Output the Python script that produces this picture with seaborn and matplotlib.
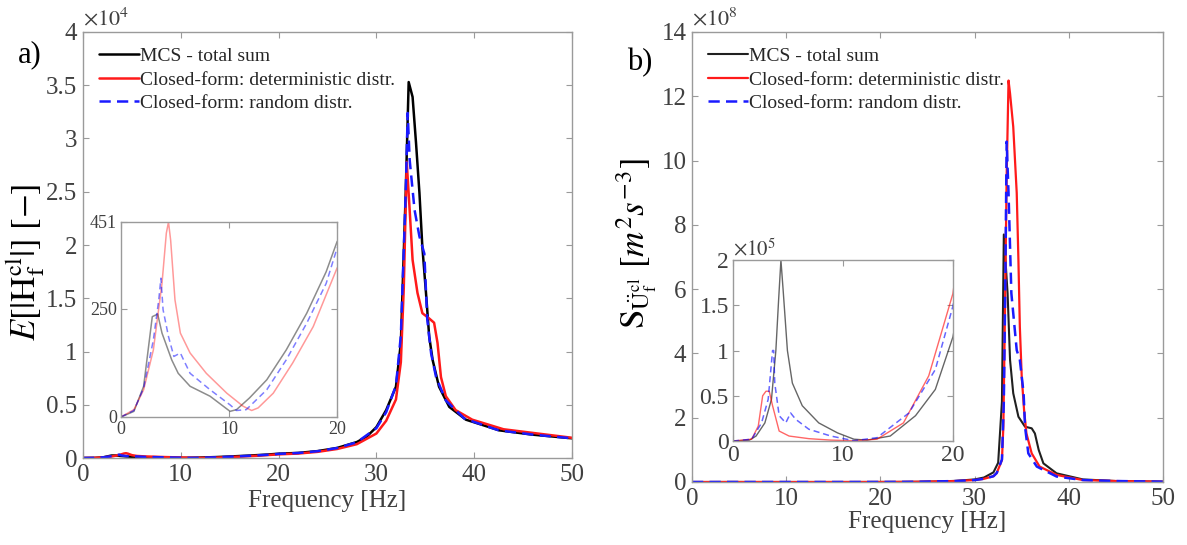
import matplotlib
matplotlib.use("Agg")
import matplotlib.pyplot as plt
from matplotlib.ticker import FuncFormatter
import numpy as np
import seaborn as sns

# ---- panel a) : E[|H_f^cl|]  (raw values) ----
f_mcs_a = [0, 1.2, 2.1, 2.9, 3.4, 3.8, 4.25, 4.7, 5.3, 6.4, 8.25, 10.1, 10.7, 11.9, 13.5, 15.3, 17.2, 19.0, 20.0,
           22, 24, 26, 28, 29, 30, 31, 32, 32.5, 33.0, 33.3, 33.7, 34.05, 34.4, 34.7, 35.07, 35.4, 35.75, 36.4,
           37.45, 39.15, 42.55, 45.9, 50]
v_mcs_a = [0, 13, 71, 232, 238, 194, 163, 132, 101, 71, 48, 13, 17, 44, 86, 155, 240, 336, 405,
           480, 650, 950, 1500, 2000, 2900, 4500, 6700, 10800, 25000, 35300, 33900, 29600, 24900, 19800,
           15500, 11400, 9200, 6700, 4800, 3600, 2600, 2200, 1850]

f_det_a = [0, 1.2, 2.1, 3.0, 3.8, 4.2, 4.4, 4.6, 5.0, 5.5, 6.4, 7.9, 9.8, 11.3, 12.1, 12.7, 14.1, 15.9, 17.8, 20,
           22, 24, 26, 28, 30, 31, 32, 32.5, 32.8, 33.1, 33.4, 33.7, 34.2, 34.7, 35.4, 35.9, 36.25, 36.6, 37.1,
           38.1, 39.8, 43, 50]
v_det_a = [0, 17, 63, 155, 309, 425, 451, 409, 271, 194, 148, 101, 55, 25, 15, 21, 55, 125, 209, 344,
           420, 580, 850, 1300, 2300, 3500, 5500, 9000, 16000, 27800, 23300, 18600, 15500, 13600, 13100,
           12700, 10800, 7600, 5800, 4500, 3600, 2700, 1900]

f_rnd_a = [0, 1.2, 2.1, 3.0, 3.5, 3.7, 3.9, 4.4, 4.9, 5.5, 5.8, 6.4, 8.25, 10.1, 10.7, 11.6, 13.5, 15.3, 17.2, 19.0,
           20, 22, 24, 26, 28, 30, 31, 32, 32.5, 33.0, 33.2, 33.4, 33.9, 34.4, 34.9, 35.2, 35.6, 36.1, 37.1,
           39, 42.5, 46, 50]
v_rnd_a = [0, 15, 67, 178, 271, 321, 248, 186, 140, 148, 132, 101, 63, 28, 15, 17, 63, 132, 217, 309,
           390, 470, 640, 940, 1480, 2800, 4300, 6800, 11500, 25000, 32400, 28000, 23300, 20800, 19200,
           13000, 9800, 7600, 5400, 3700, 2600, 2200, 1850]

# ---- panel b) : S_Uf^cl  (raw values) ----
f_mcs_b = [0, 1.5, 2.1, 2.9, 3.5, 3.9, 4.15, 4.36, 4.56, 4.95, 5.4, 6.3, 7.8, 9.5, 11.0, 12.2, 14.3, 16.6, 18.4, 20,
           22, 24, 26, 28, 30, 31, 32, 32.5, 32.9, 33.1, 33.5, 33.76, 34.1, 34.65, 35.35, 36.06, 36.4, 36.8,
           37.3, 38.7, 41.5, 45, 50]
v_mcs_b = [0, 1e3, 5.5e3, 2e4, 4.6e4, 1e5, 1.56e5, 2e5, 1.67e5, 1e5, 6.4e4, 3.9e4, 2e4, 9e3, 2e3, 1e3, 5.5e3,
           2.8e4, 5.7e4, 1.15e5,
           2.5e5, 6e5, 1.5e6, 3.5e6, 8e6, 1.4e7, 3e7, 6e7, 2.5e8, 7.7e8, 5.87e8, 3.8e8, 2.76e8, 2.03e8,
           1.72e8, 1.67e8, 1.51e8, 1.0e8, 5.8e7, 2.7e7, 8e6, 3e6, 1e6]

f_det_b = [0, 1.7, 2.3, 2.7, 3.0, 3.3, 3.6, 4.2, 5.1, 6.9, 8.9, 11.0, 13.1, 15.5, 17.8, 20,
           22, 24, 26, 28, 30, 31, 32, 32.35, 32.9, 33.05, 33.2, 33.4, 33.6, 33.76, 34.1, 34.47, 34.65, 34.8,
           35.0, 35.25, 35.5, 36.06, 36.9, 38.7, 41.5, 45, 50]
v_det_b = [0, 2e3, 1.65e4, 5e4, 5.5e4, 5.5e4, 3.9e4, 1.1e4, 5.5e3, 2.6e3, 1e3, 300, 2e3, 2e4, 7.2e4, 1.63e5,
           3.5e5, 8e5, 1.8e6, 3e6, 6e6, 1e7, 1.8e7, 2.8e7, 6.8e7, 1.72e8, 4.83e8, 9.5e8, 12.49e8, 12.09e8,
           11.05e8, 8.99e8, 6.9e8, 4.83e8, 3.28e8, 2.24e8, 1.51e8, 8.9e7, 4.8e7, 2.2e7, 6e6, 3e6, 1e6]

f_rnd_b = [0, 1.7, 2.6, 3.2, 3.6, 3.7, 3.8, 4.2, 4.8, 5.24, 5.7, 6.9, 8.9, 11.0, 13.1, 16.0, 18.4, 20,
           22, 24, 26, 28, 30, 31, 32, 32.35, 32.9, 33.1, 33.25, 33.4, 33.6, 33.9, 34.47, 34.8, 35.2, 35.35,
           35.7, 36.6, 38.7, 41.5, 45, 50]
v_rnd_b = [0, 2e3, 2e4, 4.6e4, 1e5, 1e5, 6.4e4, 2.8e4, 2e4, 3.1e4, 2.4e4, 1.3e4, 5.5e3, 300, 3.7e3, 3.1e4,
           7.9e4, 1.49e5,
           3e5, 7e5, 1.8e6, 3e6, 6e6, 1e7, 1.8e7, 2.8e7, 7e7, 2.5e8, 6e8, 10.59e8, 8.99e8, 5.87e8, 4.1e8,
           3.8e8, 2.76e8, 1.72e8, 8.9e7, 4.8e7, 1.7e7, 6e6, 3e6, 1e6]

labels = ["MCS - total sum", "Closed-form: deterministic distr.", "Closed-form: random distr."]

sns.set_theme(style="white")
plt.rcParams["font.family"] = ["Liberation Serif", "DejaVu Serif"]
plt.rcParams["mathtext.fontset"] = "stix"

BOX = "#9a9a9a"
TXT = "#404040"

def style_box(ax, size, pad=4):
    for s in ax.spines.values():
        s.set_visible(True)
        s.set_color(BOX)
        s.set_linewidth(1.0)
    ax.tick_params(direction="in", bottom=True, left=True, top=True, right=True,
                   length=4, width=0.8, color=BOX, labelcolor=TXT, labelsize=size, pad=pad)

def fmt(scale):
    return FuncFormatter(lambda y, _: "%g" % round(y / scale, 6))

def draw(ax, f, v, color, ls, lw, alpha=1.0, label=None):
    sns.lineplot(x=f, y=v, ax=ax, color=color, linestyle=ls, linewidth=lw, alpha=alpha,
                 label=label, estimator=None, sort=False, legend=label is not None)

DASH = (0, (4.5, 2.5))
leg_kw = dict(loc="upper left", bbox_to_anchor=(0.0, 1.0), frameon=False, fontsize=14,
              handlelength=2.1, handletextpad=0.05, labelspacing=0.3, borderaxespad=0.4)

fig = plt.figure(figsize=(11.87, 5.45), dpi=100)

# ===================== panel a =====================
ax_a = fig.add_axes([0.0699, 0.1596, 0.412, 0.7817])
draw(ax_a, f_mcs_a, v_mcs_a, "black", "-", 1.8, label=labels[0])
draw(ax_a, f_det_a, v_det_a, "#ff1a1a", "-", 1.8, label=labels[1])
draw(ax_a, f_rnd_a, v_rnd_a, "#1a1aff", DASH, 1.8, label=labels[2])
ax_a.set_xlim(0, 50)
ax_a.set_ylim(0, 40000)
ax_a.set_xticks(range(0, 51, 10))
ax_a.set_yticks(np.arange(0, 40001, 5000))
ax_a.yaxis.set_major_formatter(fmt(1e4))
style_box(ax_a, 18)
ax_a.set_xlabel("Frequency [Hz]", fontsize=18, color=TXT, labelpad=3)
ax_a.set_ylabel(r"$E[|\mathrm{H}_{\mathrm{f}}^{\mathrm{cl}}|]\ [-]$", fontsize=25, color="black")
ax_a.yaxis.set_label_coords(-0.074, 0.46)
ax_a.text(0.0, 1.004, r"$\times 10^4$", transform=ax_a.transAxes, fontsize=16, color=TXT,
          ha="left", va="bottom")
ax_a.legend(**leg_kw)

ins_a = fig.add_axes([0.1019, 0.2349, 0.182, 0.3578])
draw(ins_a, f_mcs_a, v_mcs_a, "black", "-", 1.1, alpha=0.45)
draw(ins_a, f_det_a, v_det_a, "#ff0000", "-", 1.1, alpha=0.4)
draw(ins_a, f_rnd_a, v_rnd_a, "#0000ff", (0, (4, 2.5)), 1.1, alpha=0.5)
ins_a.set_xlim(0, 20)
ins_a.set_ylim(0, 451)
ins_a.set_xticks([0, 10, 20])
ins_a.set_yticks([0, 250, 451])
style_box(ins_a, 13, pad=3)
ins_a.set_xlabel("")
ins_a.set_ylabel("")

fig.text(0.015, 0.899, "a)", fontsize=22, color="black", va="center")

# ===================== panel b =====================
ax_b = fig.add_axes([0.583, 0.1156, 0.3968, 0.8257])
draw(ax_b, f_mcs_b, v_mcs_b, "#202020", "-", 1.5, label=labels[0])
draw(ax_b, f_det_b, v_det_b, "#ff1a1a", "-", 1.6, label=labels[1])
draw(ax_b, f_rnd_b, v_rnd_b, "#1a1aff", DASH, 1.8, label=labels[2])
ax_b.set_xlim(0, 50)
ax_b.set_ylim(0, 14e8)
ax_b.set_xticks(range(0, 51, 10))
ax_b.set_yticks(np.arange(0, 14.01e8, 2e8))
ax_b.yaxis.set_major_formatter(fmt(1e8))
style_box(ax_b, 18)
ax_b.set_xlabel("Frequency [Hz]", fontsize=18, color=TXT, labelpad=1)
ax_b.set_ylabel(r"$\mathrm{S}_{\ddot{\mathrm{U}}_{\mathrm{f}}^{\mathrm{cl}}}\ [m^2 s^{-3}]$",
                fontsize=25, color="black")
ax_b.yaxis.set_label_coords(-0.07, 0.53)
ax_b.text(0.0, 1.004, r"$\times 10^8$", transform=ax_b.transAxes, fontsize=16, color=TXT,
          ha="left", va="bottom")
ax_b.legend(**leg_kw)

ins_b = fig.add_axes([0.6175, 0.1908, 0.1853, 0.3321])
draw(ins_b, f_mcs_b, v_mcs_b, "black", "-", 1.0, alpha=0.6)
draw(ins_b, f_det_b, v_det_b, "#ff0000", "-", 1.0, alpha=0.6)
draw(ins_b, f_rnd_b, v_rnd_b, "#0000ff", (0, (4, 2.5)), 1.1, alpha=0.6)
ins_b.set_xlim(0, 20)
ins_b.set_ylim(0, 2e5)
ins_b.set_xticks([0, 10, 20])
ins_b.set_yticks(np.arange(0, 2.01e5, 0.5e5))
ins_b.yaxis.set_major_formatter(fmt(1e5))
style_box(ins_b, 17, pad=3)
ins_b.set_xlabel("")
ins_b.set_ylabel("")
ins_b.text(0.0, 1.0, r"$\times 10^5$", transform=ins_b.transAxes, fontsize=15, color=TXT,
           ha="left", va="bottom")

fig.text(0.528, 0.886, "b)", fontsize=22, color="black", va="center")

fig.savefig("out.png", dpi=100)
